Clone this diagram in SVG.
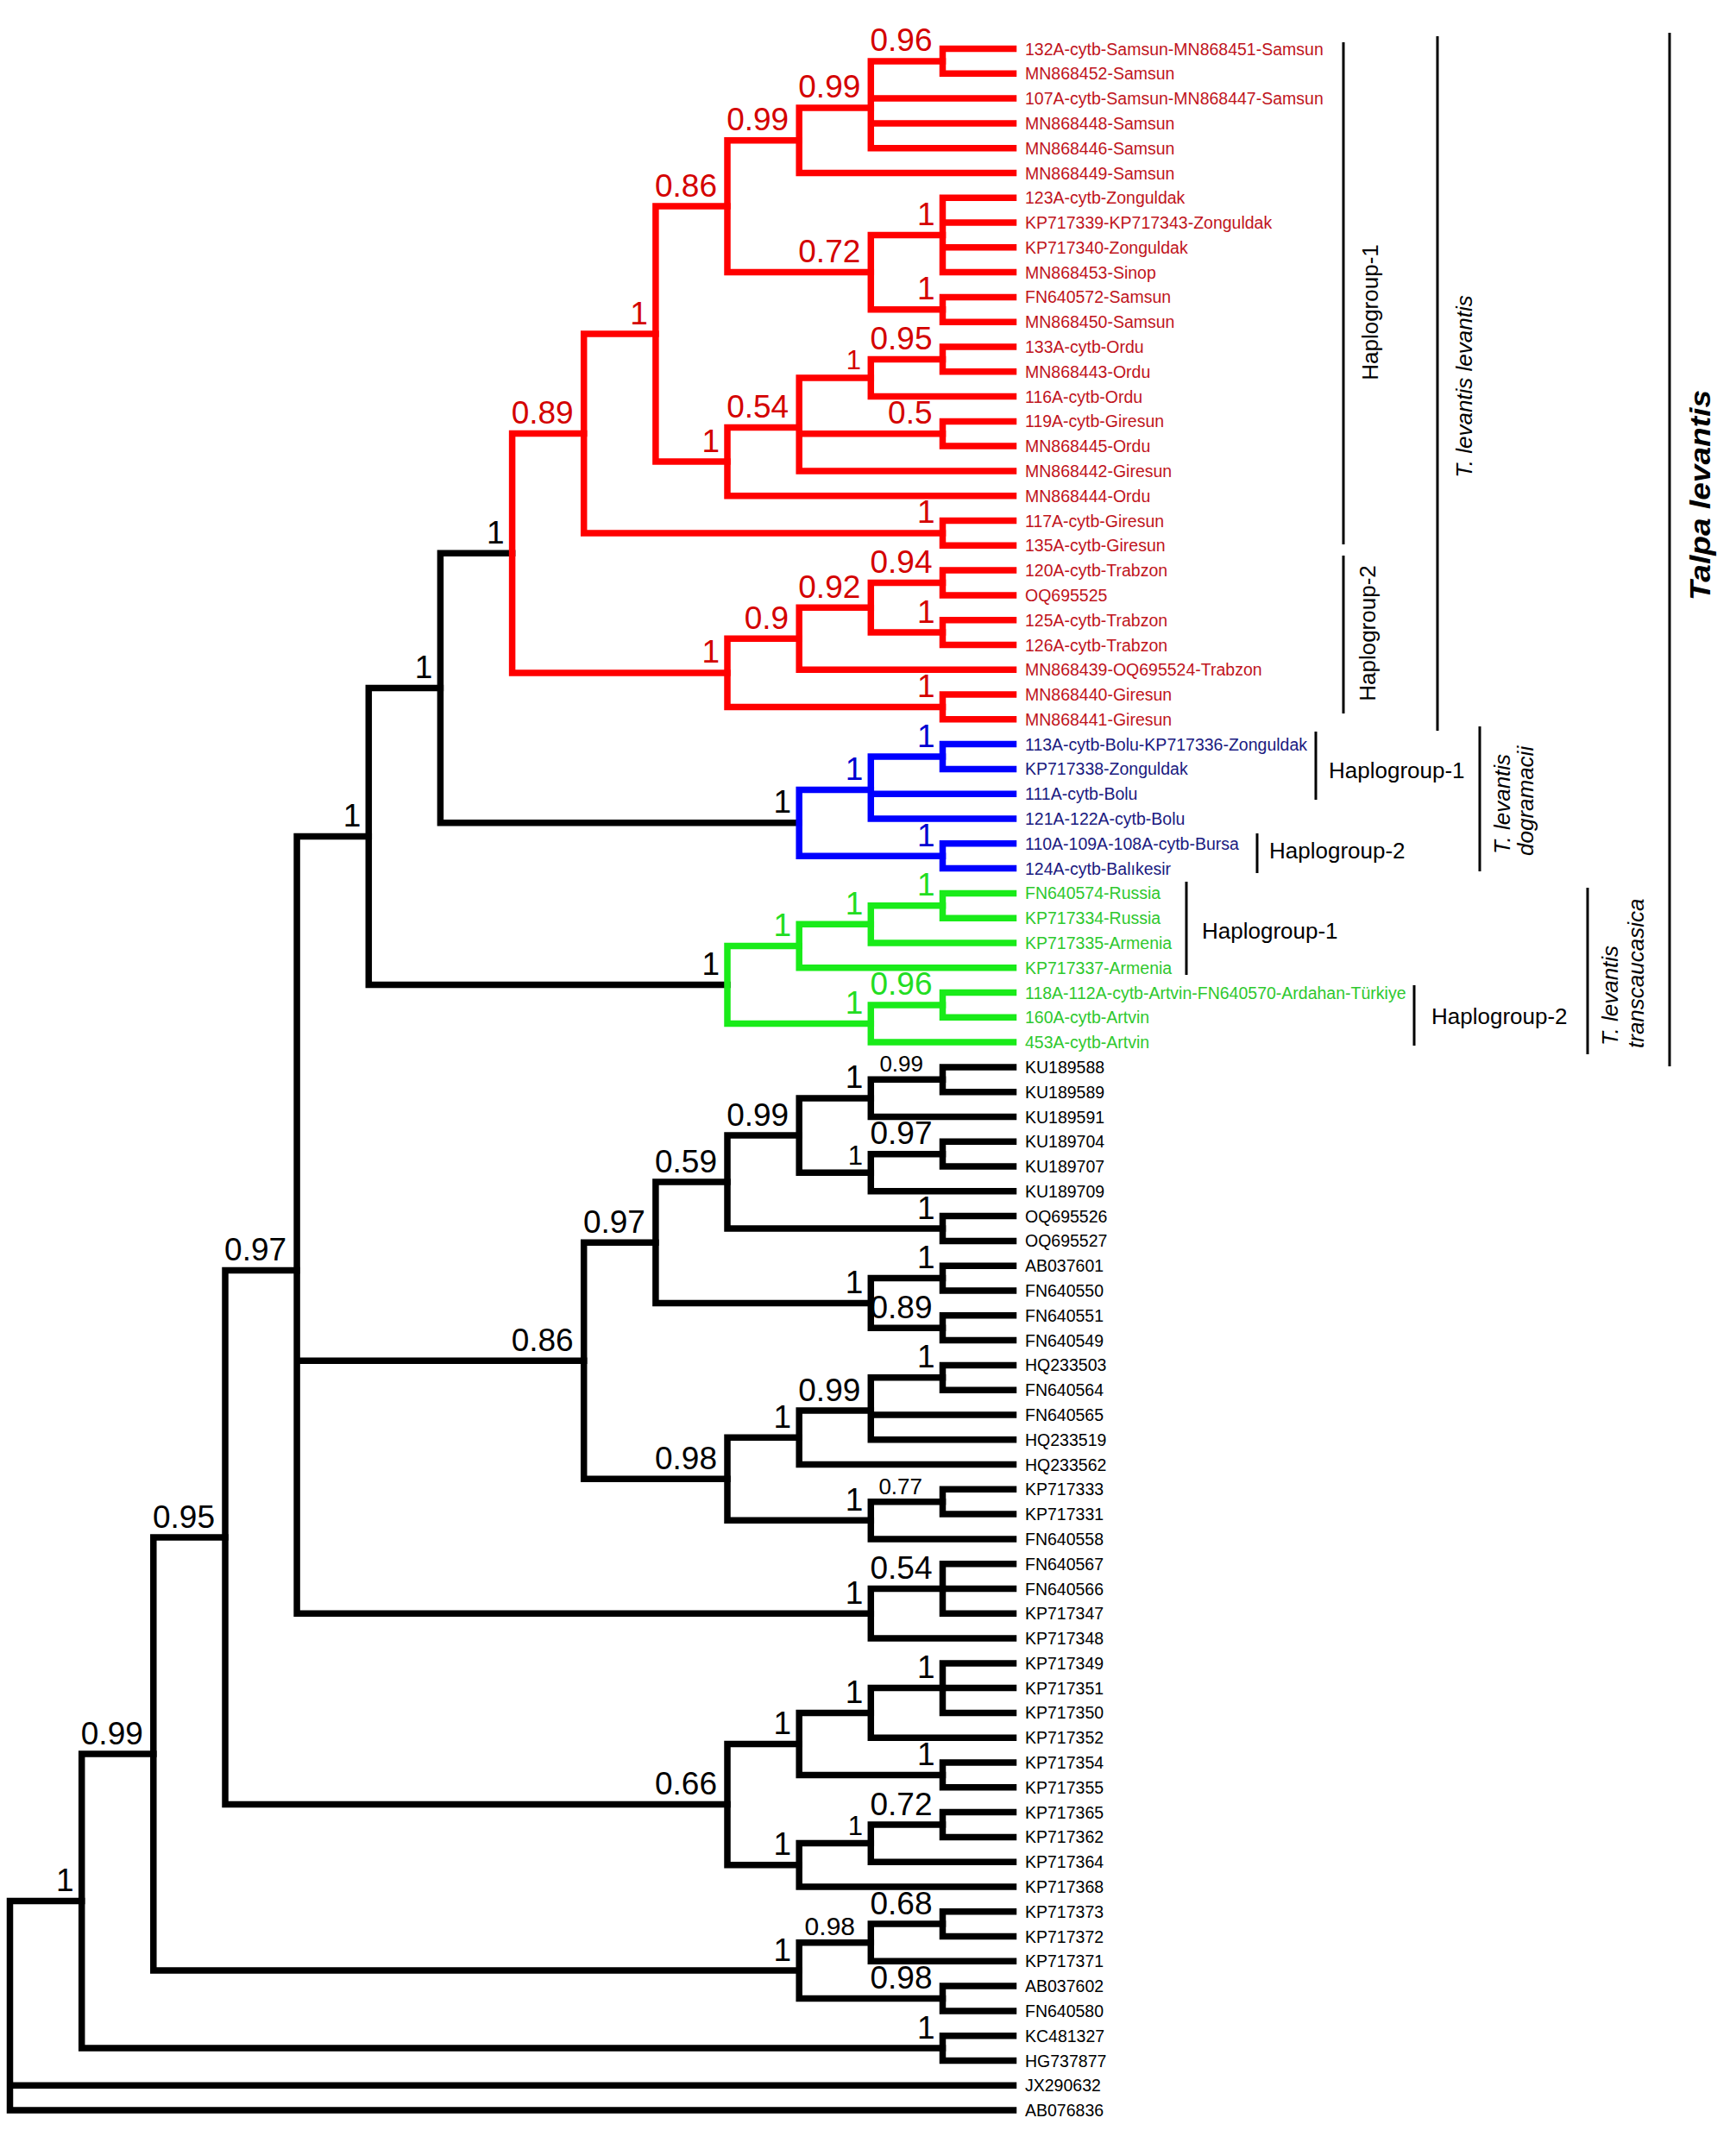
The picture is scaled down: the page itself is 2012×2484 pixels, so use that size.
<svg xmlns="http://www.w3.org/2000/svg" width="2012" height="2484" viewBox="0 0 2012 2484">
<style>
text{font-family:"Liberation Sans",Arial,sans-serif}
.c{fill:none;stroke-width:7.5;stroke-linecap:square;stroke-linejoin:miter}
.k{stroke:#000}.r{stroke:#ff0000}.b{stroke:#0000ff}.g{stroke:#19eb19}
.t{font-size:19.5px}
.tr{fill:#c0141c}.tb{fill:#1a1a80}.tg{fill:#2ec82e}.tk{fill:#000}
.s{font-size:37px;text-anchor:end;fill:#000}
.s26{font-size:26px}.s28{font-size:31px}.s30{font-size:30px}
.sr{fill:#d40000}.sb{fill:#0000d0}.sg{fill:#22dd22}
.brk{stroke:#000;stroke-width:3;fill:none}
.hg{font-size:26px;fill:#000}
.it{font-style:italic}
.tl{font-size:34px;font-weight:bold;font-style:italic;fill:#000}
</style>
<rect width="2012" height="2484" fill="#fff"/>
<g id="support-labels">
<g id="nA"><text class="s" x="85.7" y="2192.1">1</text></g>
<g id="nB2"><text class="s" x="165.8" y="2021.6">0.99</text></g>
<g id="nD3"><text class="s" x="249" y="1770.5">0.95</text></g>
<g id="nF4"><text class="s" x="332.1" y="1460.9">0.97</text></g>
<g id="nH5"><text class="s" x="418.3" y="958">1</text></g>
<g id="nK6"><text class="s" x="501.4" y="786">1</text></g>
<g id="nR7"><text class="s" x="584.6" y="629.7">1</text></g>
<g id="nB11"><text class="s" x="917.2" y="942.3">1</text></g>
<g id="nG10"><text class="s" x="834" y="1130">1</text></g>
<g id="nI8"><text class="s" x="664.7" y="1565.8">0.86</text></g>
<g id="nL9"><text class="s" x="747.9" y="1428.7">0.97</text></g>
<g id="nN10"><text class="s" x="831" y="1358.5">0.59</text></g>
<g id="nP11"><text class="s" x="914.2" y="1304.6">0.99</text></g>
<g id="nS12a"><text class="s" x="1000.3" y="1261.4">1</text></g>
<g id="nT13a"><text class="s s26" x="1070" y="1242">0.99</text></g>
<g id="nS12b"><text class="s s28" x="1000" y="1350">1</text></g>
<g id="nT13b"><text class="s" x="1080.5" y="1326.2">0.97</text></g>
<g id="nQ13"><text class="s" x="1083.5" y="1412.5">1</text></g>
<g id="nO12"><text class="s" x="1000.3" y="1498.9">1</text></g>
<g id="nU13a"><text class="s" x="1083.5" y="1470.1">1</text></g>
<g id="nU13b"><text class="s" x="1080.5" y="1527.7">0.89</text></g>
<g id="nM10"><text class="s" x="831" y="1702.8">0.98</text></g>
<g id="nV11"><text class="s" x="917.2" y="1654.8">1</text></g>
<g id="nX12"><text class="s" x="997.3" y="1623.6">0.99</text></g>
<g id="nY13"><text class="s" x="1083.5" y="1585.3">1</text></g>
<g id="nW12"><text class="s" x="1000.3" y="1750.8">1</text></g>
<g id="nZ13"><text class="s s26" x="1069" y="1732">0.77</text></g>
<g id="nJ12"><text class="s" x="1000.3" y="1858.8">1</text></g>
<g id="nAA13"><text class="s" x="1080.5" y="1830">0.54</text></g>
<g id="nG66"><text class="s" x="831" y="2080.1">0.66</text></g>
<g id="nAB11"><text class="s" x="917.2" y="2009.9">1</text></g>
<g id="nAD12"><text class="s" x="1000.3" y="1973.9">1</text></g>
<g id="nAF13"><text class="s" x="1083.5" y="1945.1">1</text></g>
<g id="nAE13"><text class="s" x="1083.5" y="2045.9">1</text></g>
<g id="nAC11"><text class="s" x="917.2" y="2150.3">1</text></g>
<g id="nAG12"><text class="s s28" x="1000" y="2127">1</text></g>
<g id="nAH13"><text class="s" x="1080.5" y="2103.5">0.72</text></g>
<g id="nE11"><text class="s" x="917.2" y="2272.6">1</text></g>
<g id="nAI12"><text class="s s30" x="991" y="2243">0.98</text></g>
<g id="nAK13"><text class="s" x="1080.5" y="2218.6">0.68</text></g>
<g id="nAJ13"><text class="s" x="1080.5" y="2305">0.98</text></g>
<g id="nC13"><text class="s" x="1083.5" y="2362.6">1</text></g>
<g id="nR13a"><text class="s sr" x="1080.5" y="59.4">0.96</text></g>
<g id="nR12a"><text class="s sr" x="997.3" y="113.4">0.99</text></g>
<g id="nR11a"><text class="s sr" x="914.2" y="151.2">0.99</text></g>
<g id="nR10a"><text class="s sr" x="831" y="227.6">0.86</text></g>
<g id="nR9"><text class="s sr" x="750.9" y="375.6">1</text></g>
<g id="nR8"><text class="s sr" x="664.7" y="491">0.89</text></g>
<g id="nR13b"><text class="s sr" x="1083.5" y="260.9">1</text></g>
<g id="nR12b"><text class="s sr" x="997.3" y="304.1">0.72</text></g>
<g id="nR13c"><text class="s sr" x="1083.5" y="347.3">1</text></g>
<g id="nR13e"><text class="s sr" x="1080.5" y="404.9">0.95</text></g>
<g id="nR12c"><text class="s sr s28" x="998" y="428">1</text></g>
<g id="nR11c"><text class="s sr" x="914.2" y="484">0.54</text></g>
<g id="nR10c"><text class="s sr" x="834" y="523.6">1</text></g>
<g id="nR13d"><text class="s sr" x="1080.5" y="491.2">0.5</text></g>
<g id="nR13t"><text class="s sr" x="1083.5" y="606.4">1</text></g>
<g id="nR13g"><text class="s sr" x="1080.5" y="664">0.94</text></g>
<g id="nR12d"><text class="s sr" x="997.3" y="692.8">0.92</text></g>
<g id="nR11d"><text class="s sr" x="914.2" y="728.8">0.9</text></g>
<g id="nR13h"><text class="s sr" x="1083.5" y="721.6">1</text></g>
<g id="nR10b"><text class="s sr" x="834" y="768.4">1</text></g>
<g id="nR13f"><text class="s sr" x="1083.5" y="807.9">1</text></g>
<g id="nB13a"><text class="s sb" x="1083.5" y="865.5">1</text></g>
<g id="nB12"><text class="s sb" x="1000.3" y="903.9">1</text></g>
<g id="nB13b"><text class="s sb" x="1083.5" y="980.7">1</text></g>
<g id="nG11a"><text class="s sg" x="917.2" y="1085">1</text></g>
<g id="nG12a"><text class="s sg" x="1000.3" y="1059.8">1</text></g>
<g id="nG13a"><text class="s sg" x="1083.5" y="1038.3">1</text></g>
<g id="nG13b"><text class="s sg" x="1080.5" y="1153.4">0.96</text></g>
<g id="nG12b"><text class="s sg" x="1000.3" y="1175">1</text></g>
</g>
<g id="connectors">
<g class="c k">
<path d="M94.7 2203.6H11.5V2446.1H1174.5M11.5 2417.3H1174.5"/>
<path d="M177.8 2033.1H94.7V2374.1H1092.5"/>
<path d="M1174.5 2359.7H1092.5V2388.5H1174.5"/>
<path d="M261 1782H177.8V2284.1H926.2"/>
<path d="M1009.3 2251.7H926.2V2316.5H1092.5"/>
<path d="M1092.5 2230.1H1009.3V2273.3H1174.5"/>
<path d="M1174.5 2215.8H1092.5V2244.5H1174.5"/>
<path d="M1174.5 2302.1H1092.5V2330.9H1174.5"/>
<path d="M344.1 1472.4H261V2091.6H843"/>
<path d="M926.2 2021.4H843V2161.8H926.2"/>
<path d="M1009.3 1985.4H926.2V2057.4H1092.5"/>
<path d="M1092.5 1956.6H1009.3V2014.2H1174.5"/>
<path d="M1174.5 1927.9H1092.5V1985.4H1174.5M1092.5 1956.6H1174.5"/>
<path d="M1174.5 2043H1092.5V2071.8H1174.5"/>
<path d="M1009.3 2136.6H926.2V2187H1174.5"/>
<path d="M1092.5 2115H1009.3V2158.2H1174.5"/>
<path d="M1174.5 2100.6H1092.5V2129.4H1174.5"/>
<path d="M427.3 969.5H344.1V1870.3H1009.3M344.1 1577.3H676.7"/>
<path d="M1092.5 1841.5H1009.3V1899.1H1174.5"/>
<path d="M1174.5 1812.7H1092.5V1870.3H1174.5M1092.5 1841.5H1174.5"/>
<path d="M759.9 1440.2H676.7V1714.3H843"/>
<path d="M843 1370H759.9V1510.4H1009.3"/>
<path d="M926.2 1316.1H843V1424H1092.5"/>
<path d="M1009.3 1272.9H926.2V1359.2H1009.3"/>
<path d="M1092.5 1251.3H1009.3V1294.5H1174.5"/>
<path d="M1174.5 1236.9H1092.5V1265.7H1174.5"/>
<path d="M1092.5 1337.7H1009.3V1380.8H1174.5"/>
<path d="M1174.5 1323.3H1092.5V1352.1H1174.5"/>
<path d="M1174.5 1409.6H1092.5V1438.4H1174.5"/>
<path d="M1092.5 1481.6H1009.3V1539.2H1092.5"/>
<path d="M1174.5 1467.2H1092.5V1496H1174.5"/>
<path d="M1174.5 1524.8H1092.5V1553.6H1174.5"/>
<path d="M926.2 1666.3H843V1762.3H1009.3"/>
<path d="M1009.3 1635.1H926.2V1697.5H1174.5"/>
<path d="M1092.5 1596.8H1009.3V1668.7H1174.5M1009.3 1640H1174.5"/>
<path d="M1174.5 1582.4H1092.5V1611.2H1174.5"/>
<path d="M1092.5 1740.7H1009.3V1783.9H1174.5"/>
<path d="M1174.5 1726.3H1092.5V1755.1H1174.5"/>
<path d="M510.4 797.5H427.3V1141.5H843"/>
<path d="M593.6 641.2H510.4V953.8H926.2"/>
</g>
<g class="c r">
<path d="M676.7 502.5H593.6V779.9H843"/>
<path d="M759.9 387.1H676.7V617.9H1092.5"/>
<path d="M1174.5 603.5H1092.5V632.3H1174.5"/>
<path d="M843 239.1H759.9V535.1H843"/>
<path d="M926.2 162.7H843V315.6H1009.3"/>
<path d="M1009.3 124.9H926.2V200.5H1174.5"/>
<path d="M1092.5 70.9H1009.3V171.7H1174.5M1009.3 114.1H1174.5M1009.3 142.9H1174.5"/>
<path d="M1174.5 56.5H1092.5V85.3H1174.5"/>
<path d="M1092.5 272.4H1009.3V358.8H1092.5"/>
<path d="M1174.5 229.2H1092.5V315.6H1174.5M1092.5 258H1174.5M1092.5 286.8H1174.5"/>
<path d="M1174.5 344.4H1092.5V373.2H1174.5"/>
<path d="M926.2 495.5H843V574.7H1174.5"/>
<path d="M1009.3 438H926.2V545.9H1174.5M926.2 502.7H1092.5"/>
<path d="M1092.5 416.4H1009.3V459.6H1174.5"/>
<path d="M1174.5 402H1092.5V430.8H1174.5"/>
<path d="M1174.5 488.4H1092.5V517.1H1174.5"/>
<path d="M926.2 740.3H843V819.4H1092.5"/>
<path d="M1009.3 704.3H926.2V776.3H1174.5"/>
<path d="M1092.5 675.5H1009.3V733.1H1092.5"/>
<path d="M1174.5 661.1H1092.5V689.9H1174.5"/>
<path d="M1174.5 718.7H1092.5V747.5H1174.5"/>
<path d="M1174.5 805H1092.5V833.8H1174.5"/>
</g>
<g class="c b">
<path d="M1009.3 915.4H926.2V992.2H1092.5"/>
<path d="M1092.5 877H1009.3V949H1174.5M1009.3 920.2H1174.5"/>
<path d="M1174.5 862.6H1092.5V891.4H1174.5"/>
<path d="M1174.5 977.8H1092.5V1006.6H1174.5"/>
</g>
<g class="c g">
<path d="M926.2 1096.5H843V1186.5H1009.3"/>
<path d="M1009.3 1071.3H926.2V1121.7H1174.5"/>
<path d="M1092.5 1049.8H1009.3V1092.9H1174.5"/>
<path d="M1174.5 1035.4H1092.5V1064.2H1174.5"/>
<path d="M1092.5 1164.9H1009.3V1208.1H1174.5"/>
<path d="M1174.5 1150.5H1092.5V1179.3H1174.5"/>
</g>
</g>
<g id="leaves" class="t">
<g id="leaf01"><text class="tr" x="1188" y="63.5">132A-cytb-Samsun-MN868451-Samsun</text></g>
<g id="leaf02"><text class="tr" x="1188" y="92.3">MN868452-Samsun</text></g>
<g id="leaf03"><text class="tr" x="1188" y="121.1">107A-cytb-Samsun-MN868447-Samsun</text></g>
<g id="leaf04"><text class="tr" x="1188" y="149.9">MN868448-Samsun</text></g>
<g id="leaf05"><text class="tr" x="1188" y="178.7">MN868446-Samsun</text></g>
<g id="leaf06"><text class="tr" x="1188" y="207.5">MN868449-Samsun</text></g>
<g id="leaf07"><text class="tr" x="1188" y="236.2">123A-cytb-Zonguldak</text></g>
<g id="leaf08"><text class="tr" x="1188" y="265">KP717339-KP717343-Zonguldak</text></g>
<g id="leaf09"><text class="tr" x="1188" y="293.8">KP717340-Zonguldak</text></g>
<g id="leaf10"><text class="tr" x="1188" y="322.6">MN868453-Sinop</text></g>
<g id="leaf11"><text class="tr" x="1188" y="351.4">FN640572-Samsun</text></g>
<g id="leaf12"><text class="tr" x="1188" y="380.2">MN868450-Samsun</text></g>
<g id="leaf13"><text class="tr" x="1188" y="409">133A-cytb-Ordu</text></g>
<g id="leaf14"><text class="tr" x="1188" y="437.8">MN868443-Ordu</text></g>
<g id="leaf15"><text class="tr" x="1188" y="466.6">116A-cytb-Ordu</text></g>
<g id="leaf16"><text class="tr" x="1188" y="495.4">119A-cytb-Giresun</text></g>
<g id="leaf17"><text class="tr" x="1188" y="524.1">MN868445-Ordu</text></g>
<g id="leaf18"><text class="tr" x="1188" y="552.9">MN868442-Giresun</text></g>
<g id="leaf19"><text class="tr" x="1188" y="581.7">MN868444-Ordu</text></g>
<g id="leaf20"><text class="tr" x="1188" y="610.5">117A-cytb-Giresun</text></g>
<g id="leaf21"><text class="tr" x="1188" y="639.3">135A-cytb-Giresun</text></g>
<g id="leaf22"><text class="tr" x="1188" y="668.1">120A-cytb-Trabzon</text></g>
<g id="leaf23"><text class="tr" x="1188" y="696.9">OQ695525</text></g>
<g id="leaf24"><text class="tr" x="1188" y="725.7">125A-cytb-Trabzon</text></g>
<g id="leaf25"><text class="tr" x="1188" y="754.5">126A-cytb-Trabzon</text></g>
<g id="leaf26"><text class="tr" x="1188" y="783.3">MN868439-OQ695524-Trabzon</text></g>
<g id="leaf27"><text class="tr" x="1188" y="812">MN868440-Giresun</text></g>
<g id="leaf28"><text class="tr" x="1188" y="840.8">MN868441-Giresun</text></g>
<g id="leaf29"><text class="tb" x="1188" y="869.6">113A-cytb-Bolu-KP717336-Zonguldak</text></g>
<g id="leaf30"><text class="tb" x="1188" y="898.4">KP717338-Zonguldak</text></g>
<g id="leaf31"><text class="tb" x="1188" y="927.2">111A-cytb-Bolu</text></g>
<g id="leaf32"><text class="tb" x="1188" y="956">121A-122A-cytb-Bolu</text></g>
<g id="leaf33"><text class="tb" x="1188" y="984.8">110A-109A-108A-cytb-Bursa</text></g>
<g id="leaf34"><text class="tb" x="1188" y="1013.6">124A-cytb-Balıkesir</text></g>
<g id="leaf35"><text class="tg" x="1188" y="1042.4">FN640574-Russia</text></g>
<g id="leaf36"><text class="tg" x="1188" y="1071.2">KP717334-Russia</text></g>
<g id="leaf37"><text class="tg" x="1188" y="1099.9">KP717335-Armenia</text></g>
<g id="leaf38"><text class="tg" x="1188" y="1128.7">KP717337-Armenia</text></g>
<g id="leaf39"><text class="tg" x="1188" y="1157.5">118A-112A-cytb-Artvin-FN640570-Ardahan-Türkiye</text></g>
<g id="leaf40"><text class="tg" x="1188" y="1186.3">160A-cytb-Artvin</text></g>
<g id="leaf41"><text class="tg" x="1188" y="1215.1">453A-cytb-Artvin</text></g>
<g id="leaf42"><text class="tk" x="1188" y="1243.9">KU189588</text></g>
<g id="leaf43"><text class="tk" x="1188" y="1272.7">KU189589</text></g>
<g id="leaf44"><text class="tk" x="1188" y="1301.5">KU189591</text></g>
<g id="leaf45"><text class="tk" x="1188" y="1330.3">KU189704</text></g>
<g id="leaf46"><text class="tk" x="1188" y="1359.1">KU189707</text></g>
<g id="leaf47"><text class="tk" x="1188" y="1387.8">KU189709</text></g>
<g id="leaf48"><text class="tk" x="1188" y="1416.6">OQ695526</text></g>
<g id="leaf49"><text class="tk" x="1188" y="1445.4">OQ695527</text></g>
<g id="leaf50"><text class="tk" x="1188" y="1474.2">AB037601</text></g>
<g id="leaf51"><text class="tk" x="1188" y="1503">FN640550</text></g>
<g id="leaf52"><text class="tk" x="1188" y="1531.8">FN640551</text></g>
<g id="leaf53"><text class="tk" x="1188" y="1560.6">FN640549</text></g>
<g id="leaf54"><text class="tk" x="1188" y="1589.4">HQ233503</text></g>
<g id="leaf55"><text class="tk" x="1188" y="1618.2">FN640564</text></g>
<g id="leaf56"><text class="tk" x="1188" y="1647">FN640565</text></g>
<g id="leaf57"><text class="tk" x="1188" y="1675.7">HQ233519</text></g>
<g id="leaf58"><text class="tk" x="1188" y="1704.5">HQ233562</text></g>
<g id="leaf59"><text class="tk" x="1188" y="1733.3">KP717333</text></g>
<g id="leaf60"><text class="tk" x="1188" y="1762.1">KP717331</text></g>
<g id="leaf61"><text class="tk" x="1188" y="1790.9">FN640558</text></g>
<g id="leaf62"><text class="tk" x="1188" y="1819.7">FN640567</text></g>
<g id="leaf63"><text class="tk" x="1188" y="1848.5">FN640566</text></g>
<g id="leaf64"><text class="tk" x="1188" y="1877.3">KP717347</text></g>
<g id="leaf65"><text class="tk" x="1188" y="1906.1">KP717348</text></g>
<g id="leaf66"><text class="tk" x="1188" y="1934.9">KP717349</text></g>
<g id="leaf67"><text class="tk" x="1188" y="1963.6">KP717351</text></g>
<g id="leaf68"><text class="tk" x="1188" y="1992.4">KP717350</text></g>
<g id="leaf69"><text class="tk" x="1188" y="2021.2">KP717352</text></g>
<g id="leaf70"><text class="tk" x="1188" y="2050">KP717354</text></g>
<g id="leaf71"><text class="tk" x="1188" y="2078.8">KP717355</text></g>
<g id="leaf72"><text class="tk" x="1188" y="2107.6">KP717365</text></g>
<g id="leaf73"><text class="tk" x="1188" y="2136.4">KP717362</text></g>
<g id="leaf74"><text class="tk" x="1188" y="2165.2">KP717364</text></g>
<g id="leaf75"><text class="tk" x="1188" y="2194">KP717368</text></g>
<g id="leaf76"><text class="tk" x="1188" y="2222.8">KP717373</text></g>
<g id="leaf77"><text class="tk" x="1188" y="2251.5">KP717372</text></g>
<g id="leaf78"><text class="tk" x="1188" y="2280.3">KP717371</text></g>
<g id="leaf79"><text class="tk" x="1188" y="2309.1">AB037602</text></g>
<g id="leaf80"><text class="tk" x="1188" y="2337.9">FN640580</text></g>
<g id="leaf81"><text class="tk" x="1188" y="2366.7">KC481327</text></g>
<g id="leaf82"><text class="tk" x="1188" y="2395.5">HG737877</text></g>
<g id="leaf83"><text class="tk" x="1188" y="2424.3">JX290632</text></g>
<g id="leaf84"><text class="tk" x="1188" y="2453.1">AB076836</text></g>
</g>
<g id="clades">
<g id="red-hg1"><path class="brk" d="M1557 49V631"/><text class="hg" text-anchor="middle" transform="translate(1597 362) rotate(-90)">Haplogroup-1</text></g>
<g id="red-hg2"><path class="brk" d="M1557 644V827"/><text class="hg" text-anchor="middle" transform="translate(1594 734) rotate(-90)">Haplogroup-2</text></g>
<g id="tl-levantis"><path class="brk" d="M1666 42V847"/><text class="hg it" text-anchor="middle" transform="translate(1706 448) rotate(-90)">T. levantis levantis</text></g>
<g id="talpa"><path class="brk" d="M1935 38V1236"/><text class="tl" text-anchor="middle" textLength="244" lengthAdjust="spacingAndGlyphs" transform="translate(1982 574) rotate(-90)">Talpa levantis</text></g>
<g id="blue-hg1"><path class="brk" d="M1525 848V927"/><text class="hg" x="1540" y="902">Haplogroup-1</text></g>
<g id="blue-hg2"><path class="brk" d="M1457 966V1012"/><text class="hg" x="1471" y="995">Haplogroup-2</text></g>
<g id="tl-dogramacii"><path class="brk" d="M1715 842V1010"/><text class="hg it" transform="translate(1750 990) rotate(-90)">T. levantis</text><text class="hg it" transform="translate(1777 992) rotate(-90)">dogramacii</text></g>
<g id="green-hg1"><path class="brk" d="M1375 1022V1130"/><text class="hg" x="1393" y="1088">Haplogroup-1</text></g>
<g id="green-hg2"><path class="brk" d="M1639 1142V1212"/><text class="hg" x="1659" y="1187">Haplogroup-2</text></g>
<g id="tl-transcaucasica"><path class="brk" d="M1840 1029V1222"/><text class="hg it" transform="translate(1875 1212) rotate(-90)">T. levantis</text><text class="hg it" transform="translate(1905 1215) rotate(-90)">transcaucasica</text></g>
</g>
</svg>
